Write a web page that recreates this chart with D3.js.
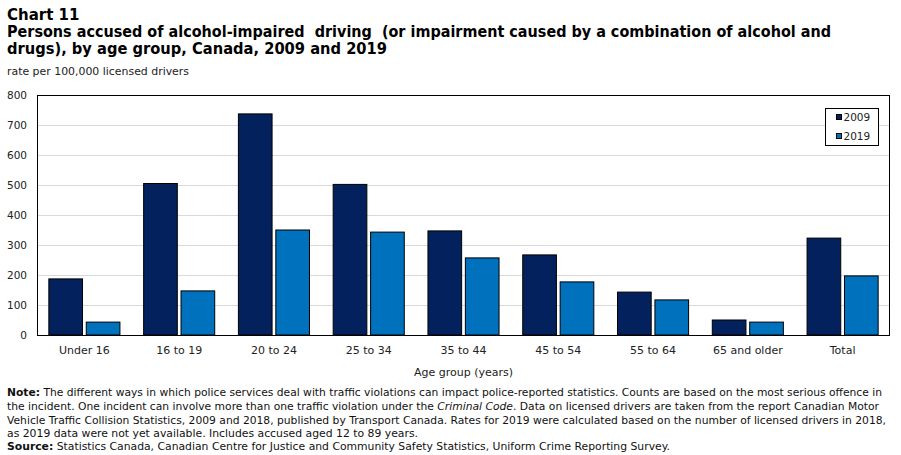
<!DOCTYPE html>
<html>
<head>
<meta charset="utf-8">
<script src="https://cdn.jsdelivr.net/npm/d3@7"></script>
<style>
  body { margin: 0; background: #fff; }
  text { font-family: "DejaVu Sans", Verdana, sans-serif; white-space: pre; }
</style>
</head>
<body>
<div id="chart"></div>
<script>
// Données
const ageGroups = ["Under 16", "16 to 19", "20 to 24", "25 to 34", "35 to 44", "45 to 54", "55 to 64", "65 and older", "Total"];
const years = ["2009", "2019"];
const rates2009 = [187, 505, 737, 502, 347, 267, 143, 50, 323];
const rates2019 = [43, 147, 350, 343, 257, 177, 117, 43, 197];
const yTicks = [0, 100, 200, 300, 400, 500, 600, 700, 800];
const colors = { "2009": "#03215d", "2019": "#0071bd" };

const width = 901, height = 455;
const margin = { left: 37, right: 11, top: 95, bottom: 120 };

const svg = d3.select("#chart")
    .append("svg")
    .attr("width", width)
    .attr("height", height);

// Titre
svg.append("text").attr("x", 7).attr("y", 20)
    .attr("font-size", 15).attr("font-weight", "bold").text("Chart 11");
svg.append("text").attr("x", 7).attr("y", 37)
    .attr("font-size", 15).attr("font-weight", "bold")
    .attr("textLength", 824).attr("lengthAdjust", "spacingAndGlyphs")
    .text("Persons accused of alcohol-impaired  driving  (or impairment caused by a combination of alcohol and");
svg.append("text").attr("x", 7).attr("y", 54)
    .attr("font-size", 15).attr("font-weight", "bold")
    .attr("textLength", 380).attr("lengthAdjust", "spacingAndGlyphs")
    .text("drugs), by age group, Canada, 2009 and 2019");
svg.append("text").attr("x", 7).attr("y", 75)
    .attr("font-size", 10.5).attr("fill", "#222")
    .attr("textLength", 182).attr("lengthAdjust", "spacingAndGlyphs")
    .text("rate per 100,000 licensed drivers");

// Échelles
const x0 = d3.scaleBand()
    .domain(ageGroups)
    .range([margin.left, width - margin.right]);
const bw = x0.bandwidth();
const x1 = d3.scaleBand()
    .domain(years)
    .range([bw * 0.125, bw * 0.875])
    .paddingInner(0.1);
const y = d3.scaleLinear()
    .domain([0, 800])
    .range([height - margin.bottom, margin.top]);

// Grille
svg.append("g")
    .selectAll("line")
    .data(yTicks.filter(d => d > 0 && d < 800))
    .enter()
    .append("line")
    .attr("x1", margin.left).attr("x2", width - margin.right)
    .attr("y1", d => y(d) + 0.5).attr("y2", d => y(d) + 0.5)
    .attr("stroke", "#d9d9d9");

// Barres
const rows = ageGroups.map((g, i) => ({ group: g, values: [
    { year: "2009", value: rates2009[i] },
    { year: "2019", value: rates2019[i] }
]}));

svg.append("g")
    .selectAll("g")
    .data(rows)
    .enter()
    .append("g")
    .attr("transform", d => `translate(${x0(d.group)},0)`)
    .selectAll("rect")
    .data(d => d.values)
    .enter()
    .append("rect")
    .attr("x", d => x1(d.year))
    .attr("y", d => y(d.value))
    .attr("width", x1.bandwidth())
    .attr("height", d => y(0) - y(d.value))
    .attr("fill", d => colors[d.year])
    .attr("stroke", "#000")
    .attr("stroke-width", 1);

// Cadre
svg.append("rect")
    .attr("x", margin.left + 0.5).attr("y", margin.top + 0.5)
    .attr("width", width - margin.left - margin.right - 1)
    .attr("height", height - margin.top - margin.bottom)
    .attr("fill", "none").attr("stroke", "#000");

// Axe Y
svg.append("g")
    .selectAll("text")
    .data(yTicks)
    .enter()
    .append("text")
    .attr("x", 27).attr("y", d => y(d) + 4)
    .attr("text-anchor", "end")
    .attr("font-size", 10.5).attr("fill", "#222")
    .text(d => d);

// Axe X
svg.append("g")
    .selectAll("text")
    .data(ageGroups)
    .enter()
    .append("text")
    .attr("x", d => x0(d) + bw / 2)
    .attr("y", 354)
    .attr("text-anchor", "middle")
    .attr("font-size", 11).attr("fill", "#222")
    .text(d => d);

svg.append("text")
    .attr("x", (margin.left + width - margin.right) / 2).attr("y", 376)
    .attr("text-anchor", "middle")
    .attr("font-size", 11).attr("fill", "#222")
    .text("Age group (years)");

// Légende
const legend = svg.append("g");
legend.append("rect")
    .attr("x", 825.5).attr("y", 108.5).attr("width", 53).attr("height", 37)
    .attr("fill", "#fff").attr("stroke", "#000");
years.forEach((yr, i) => {
    legend.append("rect")
        .attr("x", 836.5).attr("y", 114.5 + i * 19).attr("width", 5).attr("height", 5)
        .attr("fill", colors[yr]).attr("stroke", "#000");
    legend.append("text")
        .attr("x", 843.5).attr("y", 121 + i * 19)
        .attr("font-size", 10.5).attr("fill", "#222")
        .text(yr);
});

// Notes
const notes = svg.append("g").attr("font-size", 10.5).attr("fill", "#111");
const l1 = notes.append("text").attr("x", 7).attr("y", 396)
    .attr("textLength", 875).attr("lengthAdjust", "spacingAndGlyphs");
l1.append("tspan").attr("font-weight", "bold").text("Note:");
l1.append("tspan").text(" The different ways in which police services deal with traffic violations can impact police-reported statistics. Counts are based on the most serious offence in");
const l2 = notes.append("text").attr("x", 7).attr("y", 410)
    .attr("textLength", 872).attr("lengthAdjust", "spacingAndGlyphs");
l2.append("tspan").text("the incident. One incident can involve more than one traffic violation under the ");
l2.append("tspan").attr("font-style", "italic").text("Criminal Code");
l2.append("tspan").text(". Data on licensed drivers are taken from the report Canadian Motor");
notes.append("text").attr("x", 7).attr("y", 424)
    .attr("textLength", 879).attr("lengthAdjust", "spacingAndGlyphs")
    .text("Vehicle Traffic Collision Statistics, 2009 and 2018, published by Transport Canada. Rates for 2019 were calculated based on the number of licensed drivers in 2018,");
notes.append("text").attr("x", 7).attr("y", 437)
    .attr("textLength", 411).attr("lengthAdjust", "spacingAndGlyphs")
    .text("as 2019 data were not yet available. Includes accused aged 12 to 89 years.");
const l5 = notes.append("text").attr("x", 7).attr("y", 450)
    .attr("textLength", 663).attr("lengthAdjust", "spacingAndGlyphs");
l5.append("tspan").attr("font-weight", "bold").text("Source:");
l5.append("tspan").text(" Statistics Canada, Canadian Centre for Justice and Community Safety Statistics, Uniform Crime Reporting Survey.");
</script>
</body>
</html>
